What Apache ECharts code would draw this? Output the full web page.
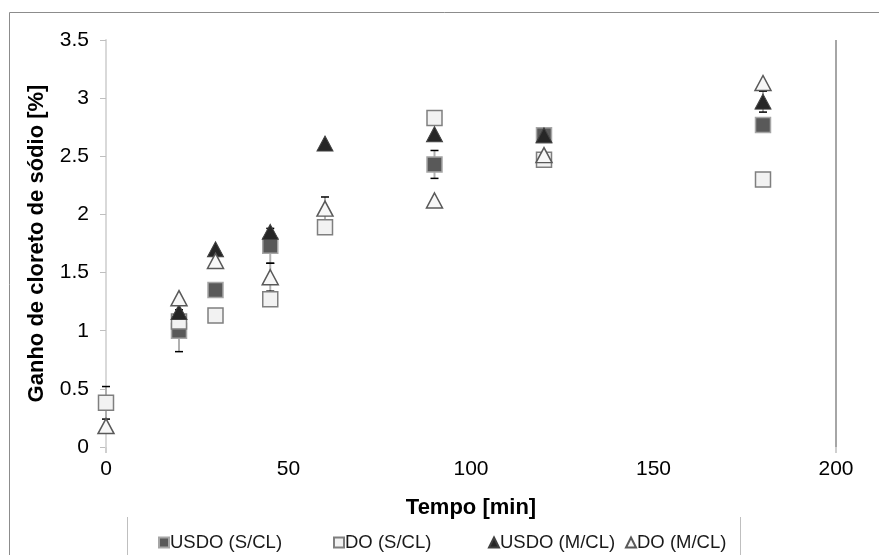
<!DOCTYPE html>
<html>
<head>
<meta charset="utf-8">
<script src="https://cdn.jsdelivr.net/npm/echarts@6/dist/echarts.min.js"></script>
<style>html,body{margin:0;padding:0;background:#fff}#c{width:879px;height:555px}</style>
</head>
<body>
<div id="c"></div>
<script>
var times = [0, 20, 30, 45, 60, 90, 120, 180];
var usdoSCL = [null, 1.00, 1.35, 1.73, null, 2.43, 2.68, 2.77];
var doSCL = [0.38, 1.08, 1.13, 1.27, 1.89, 2.83, 2.47, 2.30];
var usdoMCL = [null, 1.16, 1.70, 1.85, 2.61, 2.69, 2.68, 2.97];
var doMCL = [0.18, 1.28, 1.60, 1.46, 2.05, 2.12, 2.51, 3.13];
var errUsdoSCL = [null, 0.18, null, 0.15, null, 0.12, null, null];
var errDoSCL = [0.14, null, null, null, null, null, null, null];
var errUsdoMCL = [null, null, null, null, null, null, null, 0.09];
var errDoMCL = [null, null, null, 0.12, 0.10, null, null, null];
var names = ['USDO (S/CL)', 'DO (S/CL)', 'USDO (M/CL)', 'DO (M/CL)'];
var xTicks = [0, 50, 100, 150, 200];
var yTicks = [0, 0.5, 1, 1.5, 2, 2.5, 3, 3.5];

function pts(vals) {
  var out = [];
  for (var i = 0; i < times.length; i++) if (vals[i] != null) out.push([times[i], vals[i]]);
  return out;
}
function errPts(vals, errs) {
  var out = [];
  for (var i = 0; i < times.length; i++) if (vals[i] != null && errs[i] != null) out.push([times[i], vals[i], errs[i]]);
  return out;
}
var errData = [].concat(errPts(usdoSCL, errUsdoSCL), errPts(doSCL, errDoSCL), errPts(usdoMCL, errUsdoMCL), errPts(doMCL, errDoMCL));

var font = 'Liberation Sans, Arial, sans-serif';
var chart = echarts.init(document.getElementById('c'), null, {renderer: 'canvas'});

function legendAt(name, left) {
  return {
    data: [name], left: left, top: 528, itemWidth: 10, itemHeight: 10, itemGap: 0,
    textStyle: {fontFamily: font, fontSize: 18.5, color: '#1a1a1a', padding: [0, 0, 0, -4]},
    selectedMode: false
  };
}

chart.setOption({
  animation: false,
  backgroundColor: '#fff',
  grid: {left: 106, right: 43, top: 40, bottom: 108},
  legend: [legendAt(names[0], 153), legendAt(names[1], 328), legendAt(names[2], 483), legendAt(names[3], 620)],
  xAxis: {
    type: 'value', min: 0, max: 200, interval: 50,
    name: 'Tempo [min]', nameLocation: 'middle', nameGap: 50,
    nameTextStyle: {fontFamily: font, fontSize: 22, fontWeight: 'bold', color: '#000'},
    axisLine: {show: false},
    axisTick: {show: true, customValues: [0, 200], length: 6, lineStyle: {color: '#cfcfcf', width: 2}},
    splitLine: {show: false},
    axisLabel: {fontFamily: font, fontSize: 21, color: '#000', margin: 12}
  },
  yAxis: {
    type: 'value', min: 0, max: 3.5, interval: 0.5,
    name: 'Ganho de cloreto de sódio [%]', nameLocation: 'middle', nameGap: 58,
    nameTextStyle: {fontFamily: font, fontSize: 22, fontWeight: 'bold', color: '#000'},
    axisLine: {show: true, lineStyle: {color: '#d9d9d9', width: 2}},
    axisTick: {show: true, length: 6, lineStyle: {color: '#bfbfbf'}},
    splitLine: {show: false},
    axisLabel: {fontFamily: font, fontSize: 21, color: '#000', margin: 17}
  },
  graphic: [
    {type: 'rect', shape: {x: 9.5, y: 12.5, width: 1000, height: 1000}, style: {fill: null, stroke: '#8c8c8c', lineWidth: 1}, z: -1, silent: true},
    {type: 'line', shape: {x1: 127.5, y1: 517, x2: 127.5, y2: 560}, style: {stroke: '#bfbfbf', lineWidth: 1}, silent: true},
    {type: 'line', shape: {x1: 740.5, y1: 517, x2: 740.5, y2: 560}, style: {stroke: '#bfbfbf', lineWidth: 1}, silent: true}
  ],
  series: [
    {
      type: 'custom', name: 'err', z: 1, silent: true,
      data: errData,
      renderItem: function (params, api) {
        var x = api.value(0), y = api.value(1), e = api.value(2);
        var hi = api.coord([x, y + e]), lo = api.coord([x, y - e]);
        return {type: 'group', children: [
          {type: 'line', shape: {x1: hi[0], y1: hi[1], x2: lo[0], y2: lo[1]}, style: {stroke: '#b0b0b0', lineWidth: 2}},
          {type: 'line', shape: {x1: hi[0] - 4, y1: hi[1], x2: hi[0] + 4, y2: hi[1]}, style: {stroke: '#000', lineWidth: 1.5}},
          {type: 'line', shape: {x1: lo[0] - 4, y1: lo[1], x2: lo[0] + 4, y2: lo[1]}, style: {stroke: '#000', lineWidth: 1.5}}
        ]};
      },
      markLine: {
        silent: true, symbol: 'none', label: {show: false},
        lineStyle: {type: 'solid', color: '#a6a6a6', width: 2},
        data: [{xAxis: 200}]
      }
    },
    {
      type: 'scatter', name: names[0], z: 2, symbol: 'rect', symbolSize: 15,
      itemStyle: {color: '#595959', borderColor: '#a6a6a6', borderWidth: 1.5, opacity: 1},
      data: pts(usdoSCL)
    },
    {
      type: 'scatter', name: names[1], z: 3, symbol: 'rect', symbolSize: 15,
      itemStyle: {color: '#f2f2f2', borderColor: '#7f7f7f', borderWidth: 1.5, opacity: 1},
      data: pts(doSCL)
    },
    {
      type: 'scatter', name: names[2], z: 4, symbol: 'triangle', symbolSize: [16, 15],
      itemStyle: {color: '#262626', borderColor: '#404040', borderWidth: 1, opacity: 1},
      data: pts(usdoMCL)
    },
    {
      type: 'scatter', name: names[3], z: 5, symbol: 'triangle', symbolSize: [16, 15],
      itemStyle: {color: '#f7f7f7', borderColor: '#595959', borderWidth: 1.5, opacity: 1},
      data: pts(doMCL)
    }
  ]
});
</script>
</body>
</html>
